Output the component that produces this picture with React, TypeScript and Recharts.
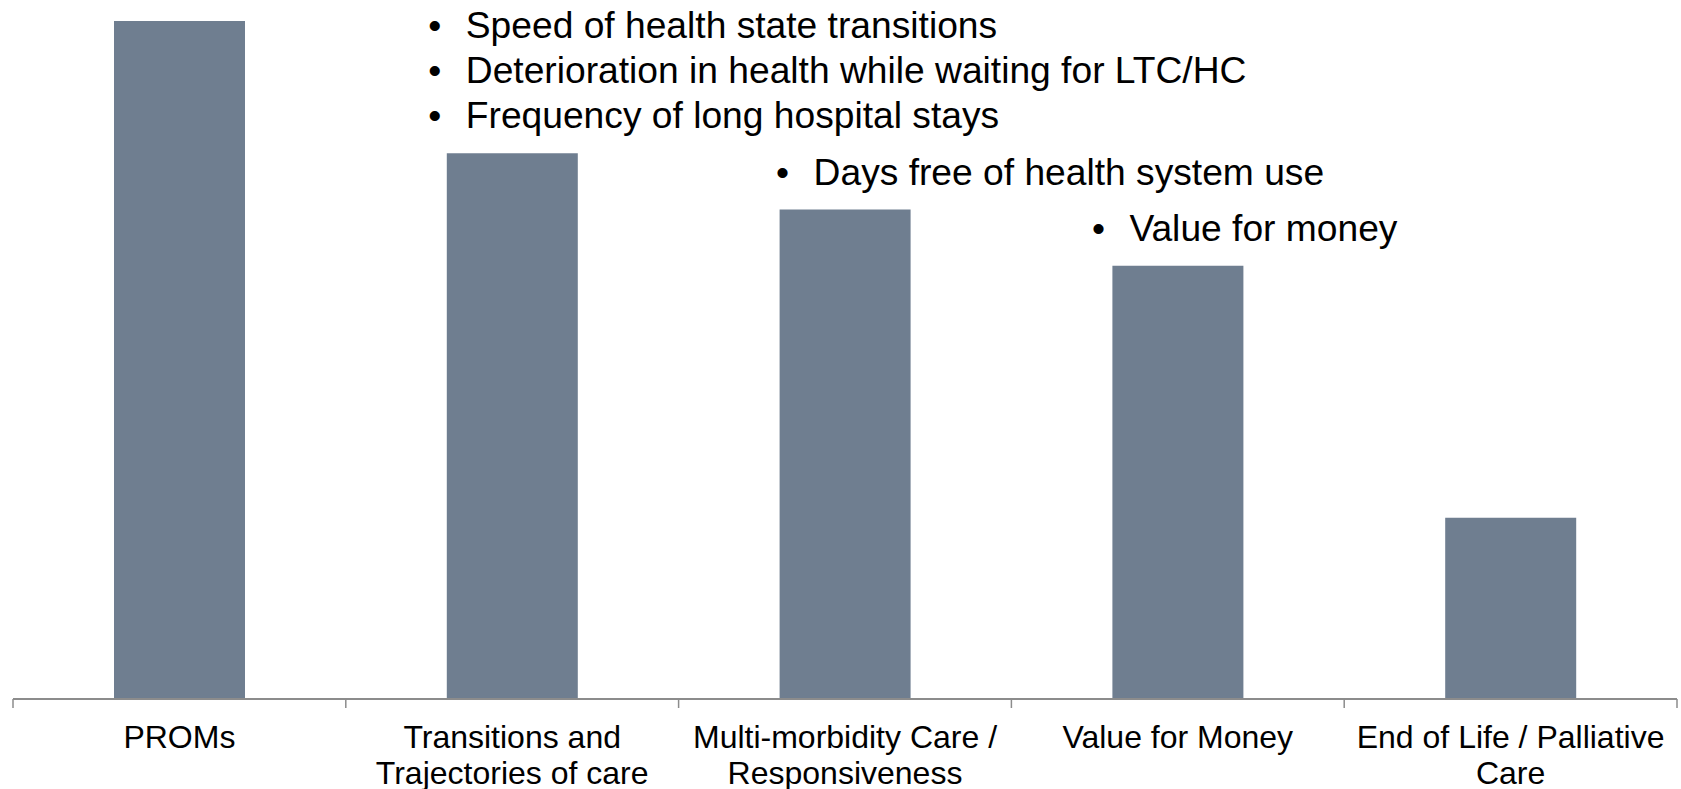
import { BarChart, Bar, XAxis, YAxis, LabelList } from "recharts";

const categories = [
  "PROMs",
  "Transitions and Trajectories of care",
  "Multi-morbidity Care / Responsiveness",
  "Value for Money",
  "End of Life / Palliative Care",
];
const scores = [37.4, 30.1, 27.0, 23.9, 10.0];
const notes: string[][] = [
  [],
  [
    "Speed of health state transitions",
    "Deterioration in health while waiting for LTC/HC",
    "Frequency of long hospital stays",
  ],
  ["Days free of health system use"],
  ["Value for money"],
  [],
];
const edgeTicks = [0, 1, 2, 3, 4, 5];

// bullet position relative to the left edge of each bar
const noteShift = [0, -12, 3, -14, 0];

const data = categories.map((name, i) => ({ name, score: scores[i], idx: i }));

const FONT = "'Liberation Sans', Arial, sans-serif";
const BAR = "#6f7e90";
const AXIS = "#8c8c8c";

function wrap(label: string, max = 24) {
  const lines: string[] = [];
  let cur = "";
  for (const w of label.split(" ")) {
    const next = cur ? cur + " " + w : w;
    if (next.length > max && cur) {
      lines.push(cur);
      cur = w;
    } else cur = next;
  }
  if (cur) lines.push(cur);
  return lines;
}

function CatTick(props: any) {
  const { x, y, payload } = props;
  const lines = wrap(String(payload.value));
  return (
    <text x={x} y={y} textAnchor="middle" fontFamily={FONT} fontSize={32} fill="#000">
      {lines.map((l, i) => (
        <tspan key={i} x={x} y={y + 40 + i * 36}>
          {l}
        </tspan>
      ))}
    </text>
  );
}

function Notes(props: any) {
  const { x, y, value } = props;
  const lines = notes[value] || [];
  if (!lines.length) return null;
  const bx = x + noteShift[value];
  return (
    <g fontFamily={FONT} fontSize={37.2} fill="#000">
      {lines.map((l, j) => {
        const by = y - 25 - (lines.length - 1 - j) * 45;
        return (
          <g key={j}>
            <text x={bx} y={by} textAnchor="middle">
              •
            </text>
            <text x={bx + 31} y={by}>
              {l}
            </text>
          </g>
        );
      })}
    </g>
  );
}

export default function App() {
  return (
    <div style={{ position: "absolute", left: 0, top: 0, background: "#fff" }}>
      <BarChart
        width={1681}
        height={789}
        data={data}
        margin={{ top: 21, right: 4, bottom: 0, left: 13 }}
        barSize={131}
      >
        <XAxis
          xAxisId="base"
          type="number"
          dataKey="idx"
          domain={[0, 5]}
          ticks={edgeTicks}
          allowDataOverflow
          tick={() => <g />}
          tickSize={9}
          tickLine={{ stroke: AXIS, strokeWidth: 1.5 }}
          axisLine={{ stroke: AXIS, strokeWidth: 2 }}
          height={1}
        />
        <XAxis
          xAxisId="names"
          dataKey="name"
          axisLine={false}
          tickLine={false}
          interval={0}
          tick={<CatTick />}
          height={89}
        />
        <YAxis hide domain={[0, "dataMax"]} />
        <Bar xAxisId="names" dataKey="score" fill={BAR} isAnimationActive={false}>
          <LabelList dataKey="idx" content={<Notes />} />
        </Bar>
      </BarChart>
    </div>
  );
}
